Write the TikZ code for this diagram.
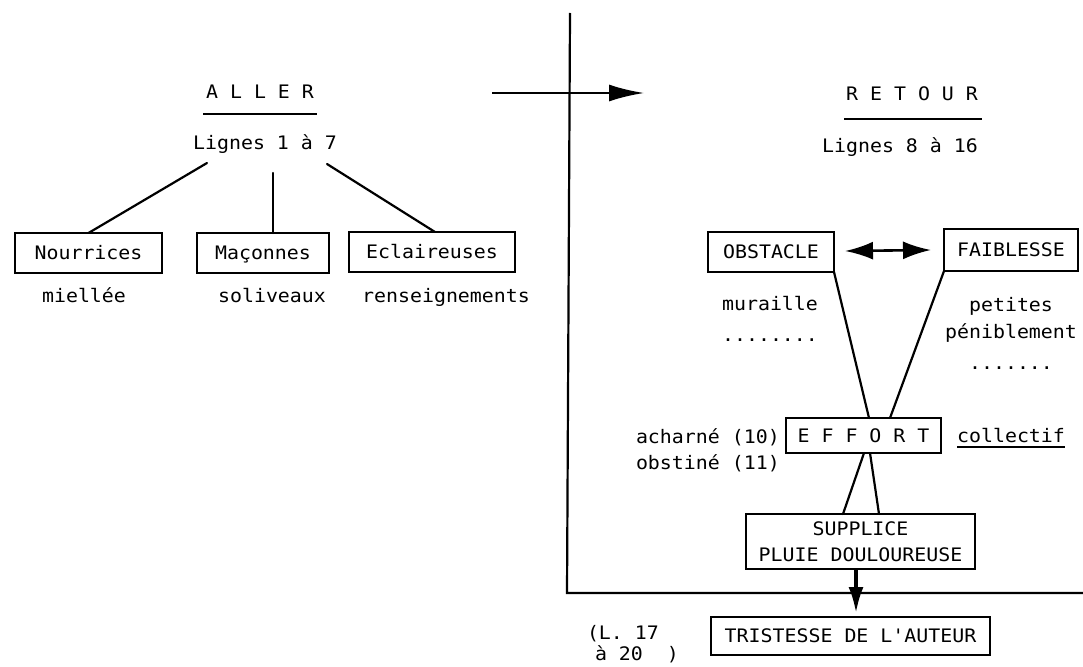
\documentclass[tikz,border=0pt]{standalone}
\usepackage{fontspec}
\newfontfamily\tw{DejaVu Sans Mono}[FakeStretch=1.07]
\usetikzlibrary{arrows.meta}
\begin{document}
\begin{tikzpicture}[x=1pt,y=-1pt,
  txt/.style={font=\tw\fontsize{18.6}{26}\selectfont, inner sep=0pt, outer sep=0pt, text=black, text height=13.2pt, text depth=0pt},
  twoline/.style={font=\tw\fontsize{18.6}{26}\selectfont, inner sep=0pt, outer sep=0pt, text=black, align=center},
  box/.style={draw, line width=2.6pt, inner sep=0pt, outer sep=0pt},
  conn/.style={line width=2.2pt, line cap=round},
  uline/.style={line width=1.8pt}
]
\useasboundingbox[fill=white] (0,0) rectangle (1083,666);

% ---------- ALLER ----------
\node[txt] (aller) at (260,92) {A L L E R};
\draw[uline] ([xshift=-3pt,yshift=-15.6pt]aller.south west) -- ([xshift=3pt,yshift=-15.6pt]aller.south east);
\node[txt] (lig1) at (265,143) {Lignes 1 à 7};

\node[txt,box,minimum width=147pt,minimum height=40pt] (nour) at (88.5,253) {Nourrices};
\node[txt,box,minimum width=132pt,minimum height=40pt] (mac) at (263,253) {Maçonnes};
\node[txt,box,minimum width=166pt,minimum height=40pt] (ecl) at (432,252) {Eclaireuses};

\coordinate (a1) at (207,163);
\coordinate (a2) at (273,173);
\coordinate (a3) at (327,164);
\draw[conn] (a1) -- (nour.north);
\draw[conn] (a2) -- ([xshift=10pt]mac.north);
\draw[conn] (a3) -- ([xshift=3pt]ecl.north);

\node[txt] (miel) at (84,296) {miellée};
\node[txt] (soli) at (272,296) {soliveaux};
\node[txt] (rens) at (446,296) {renseignements};

% ---------- central arrow and frame ----------
\coordinate (arrS) at (492,93);
\coordinate (arrE) at (644,93);
\draw[line width=2.2pt,-{Latex[length=35pt,width=17pt]}] (arrS) -- (arrE);

\coordinate (vt) at (570,13);
\coordinate (corner) at (567,593);
\coordinate (hr) at (1083,593);
\draw[line width=2.2pt] (vt) -- (corner) -- (hr);

% ---------- RETOUR ----------
\node[txt] (retour) at (912,94) {R E T O U R};
\draw[uline] ([xshift=-2pt,yshift=-18.6pt]retour.south west) -- ([xshift=4pt,yshift=-18.6pt]retour.south east);
\node[txt] (lig2) at (900,146) {Lignes 8 à 16};

\node[txt,box,minimum width=126pt,minimum height=40pt] (obs) at (771,252) {OBSTACLE};
\node[txt,box,minimum width=134pt,minimum height=42pt] (fai) at (1011,250) {FAIBLESSE};
\draw[line width=2.6pt,{Latex[length=28pt,width=18pt]}-{Latex[length=28pt,width=18pt]}] ([xshift=11pt,yshift=1pt]obs.east) -- ([xshift=-13pt]fai.west);

\node[txt] (mur) at (770,304) {muraille};
\node[txt] (dots1) at (770,335) {........};
\node[txt] (pet) at (1011,305) {petites};
\node[txt] (pen) at (1011,332) {péniblement};
\node[txt] (dots2) at (1011,363) {.......};

\node[txt,box,minimum width=155pt,minimum height=35pt] (eff) at (863.5,435.5) {E F F O R T};
\draw[conn] (obs.south east) -- ([xshift=5.5pt]eff.north);
\draw[conn] (fai.south west) -- ([xshift=26.5pt]eff.north);

\node[txt,anchor=west] (ach) at (636,437) {acharné (10)};
\node[txt,anchor=west] (obst) at (636,463) {obstiné (11)};
\node[txt] (col) at (1011,436) {collectif};
\draw[uline] ([yshift=-4.5pt]col.south west) -- ([yshift=-4.5pt]col.south east);

\node[twoline,box,minimum width=229pt,minimum height=55pt] (sup) at (860.5,541.5) {SUPPLICE\\PLUIE DOULOUREUSE};
\draw[conn] ([xshift=0.5pt]eff.south) -- ([xshift=-17.5pt]sup.north);
\draw[conn] ([xshift=6.5pt]eff.south) -- ([xshift=18.5pt]sup.north);

\node[txt,box,minimum width=279pt,minimum height=38pt] (tri) at (850.5,636) {TRISTESSE DE L'AUTEUR};
\draw[line width=3.4pt,-{Latex[length=26pt,width=15pt]},shorten >=4pt] ([xshift=-4.5pt]sup.south) -- ([xshift=5.5pt]tri.north);

\node[txt,anchor=west] (lr1) at (587,633) {(L. 17};
\node[txt,anchor=west] (lr2) at (595,654) {à 20~~)};
\end{tikzpicture}
\end{document}
